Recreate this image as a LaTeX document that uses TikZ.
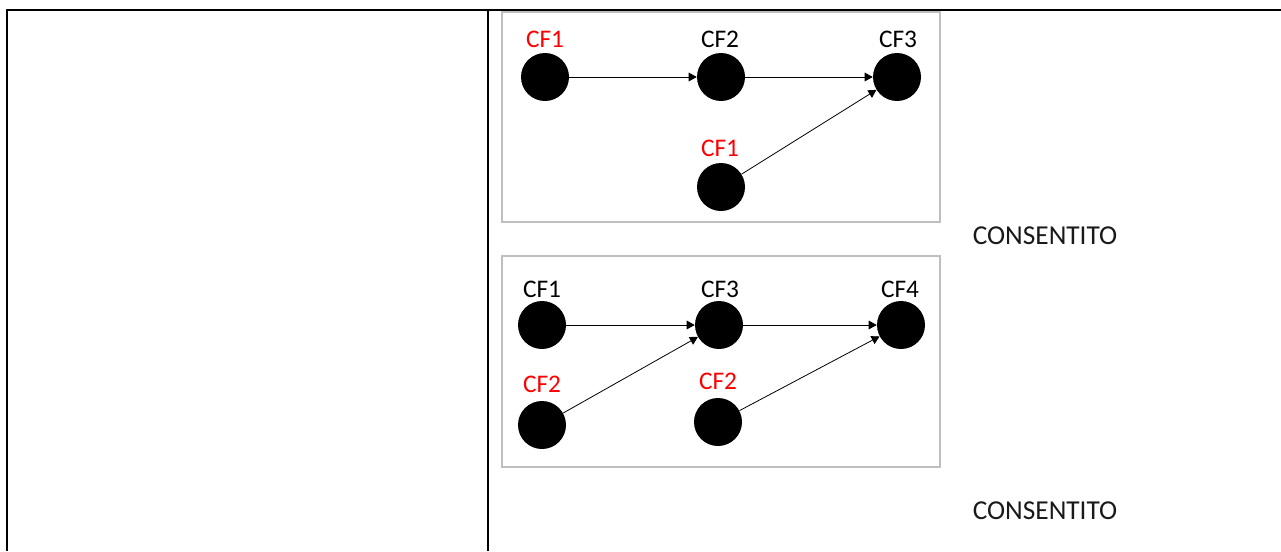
\documentclass[tikz,border=0pt]{standalone}
\usepackage{fontspec}
\setmainfont{Carlito}
\usetikzlibrary{arrows.meta}
\definecolor{boxgray}{HTML}{BFBFBF}
\definecolor{lblred}{HTML}{FF0000}
\tikzset{
  dot/.style={circle,fill=black,draw=none,minimum size=36pt,inner sep=0pt},
  lbl/.style={inner sep=0pt,font=\fontsize{19pt}{22pt}\selectfont},
  redlbl/.style={lbl,text=lblred},
  conn/.style={line width=0.6pt,-{Triangle[length=6pt,width=6.5pt]}},
  tableline/.style={line width=1.5pt,black},
  frame/.style={draw=boxgray,line width=1.1pt},
  verdict/.style={inner sep=0pt,font=\fontsize{20.5pt}{24pt}\selectfont,text=black!90}
}
\begin{document}
\begin{tikzpicture}[x=0.75pt,y=-0.75pt]
\useasboundingbox (0,0) rectangle (1281,551);
% table lines
\coordinate (tl) at (7,10);
\coordinate (tr) at (1281,10);
\coordinate (bl) at (7,551);
\coordinate (mt) at (488,10);
\coordinate (mb) at (488,551);
\draw[tableline] (bl) -- (tl) -- (tr);
\draw[tableline] (mt) -- (mb);
% frames
\draw[frame] (502,12) rectangle (940,222);
\draw[frame] (502,256) rectangle (940,467);
% box 1
\node[dot] (a1) at (545,77) {};
\node[dot] (a2) at (721,77) {};
\node[dot] (a3) at (897,77) {};
\node[dot] (a4) at (721,187) {};
\node[redlbl] (la1) at (545,39) {CF1};
\node[lbl] (la2) at (720,39) {CF2};
\node[lbl] (la3) at (898,39) {CF3};
\node[redlbl] (la4) at (720,148) {CF1};
\draw[conn] (a1) -- (a2);
\draw[conn] (a2) -- (a3);
\draw[conn] (a4) -- (a3);
% box 2
\node[dot] (b1) at (542,325) {};
\node[dot] (b2) at (719,325) {};
\node[dot] (b3) at (901,325) {};
\node[dot] (b4) at (542,425) {};
\node[dot] (b5) at (718,422) {};
\node[lbl] (lb1) at (542,289) {CF1};
\node[lbl] (lb2) at (720,289) {CF3};
\node[lbl] (lb3) at (900,289) {CF4};
\node[redlbl] (lb4) at (542,384) {CF2};
\node[redlbl] (lb5) at (718,381) {CF2};
\draw[conn] (b1) -- (b2);
\draw[conn] (b2) -- (b3);
\draw[conn] (b4) -- (b2);
\draw[conn] (b5) -- (b3);
% verdicts
\node[verdict] (v1) at (1045,236) {CONSENTITO};
\node[verdict] (v2) at (1045,511) {CONSENTITO};
\end{tikzpicture}
\end{document}
